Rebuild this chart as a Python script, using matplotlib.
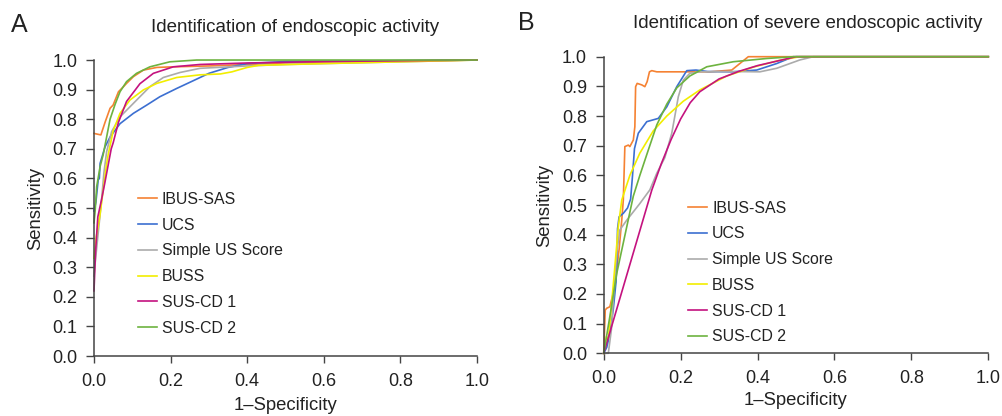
# ROC curves for ultrasound scores vs endoscopic activity
import matplotlib
matplotlib.use("Agg")
import matplotlib.pyplot as plt

plt.rcParams['font.family'] = ['Liberation Sans', 'DejaVu Sans']

labels = ["IBUS-SAS", "UCS", "Simple US Score", "BUSS", "SUS-CD 1", "SUS-CD 2"]
colors = ["#F58233", "#3C6FD1", "#ABABAB", "#F2EE00", "#C4127F", "#6DB33F"]
ticks = [0.0, 0.2, 0.4, 0.6, 0.8, 1.0]
yticks = [0.0, 0.1, 0.2, 0.3, 0.4, 0.5, 0.6, 0.7, 0.8, 0.9, 1.0]

# Panel A - endoscopic activity
a_ibus_x = [0, 0.018, 0.029, 0.042, 0.05, 0.064, 0.077, 0.085, 0.103, 0.129, 0.164, 0.206, 0.3, 0.5, 0.7, 1.0]
a_ibus_y = [0.752, 0.747, 0.79, 0.837, 0.848, 0.893, 0.91, 0.921, 0.944, 0.966, 0.975, 0.977, 0.98, 0.99, 0.995, 1.0]
a_ucs_x = [0, 0.005, 0.011, 0.014, 0.016, 0.029, 0.042, 0.068, 0.103, 0.138, 0.172, 0.216, 0.259, 0.3, 0.35, 0.4, 0.5, 1.0]
a_ucs_y = [0.49, 0.52, 0.595, 0.6, 0.651, 0.707, 0.74, 0.785, 0.82, 0.848, 0.876, 0.904, 0.93, 0.955, 0.975, 0.988, 0.995, 1.0]
a_simple_x = [0, 0.003, 0.01, 0.019, 0.026, 0.033, 0.046, 0.068, 0.094, 0.12, 0.146, 0.181, 0.225, 0.277, 0.4, 0.5, 1.0]
a_simple_y = [0.27, 0.313, 0.403, 0.516, 0.62, 0.69, 0.758, 0.808, 0.842, 0.876, 0.91, 0.941, 0.958, 0.972, 0.98, 0.985, 1.0]
a_buss_x = [0, 0.006, 0.015, 0.023, 0.032, 0.037, 0.05, 0.068, 0.094, 0.129, 0.164, 0.216, 0.277, 0.33, 0.36, 0.4, 0.43, 0.6, 1.0]
a_buss_y = [0.33, 0.403, 0.47, 0.55, 0.64, 0.68, 0.76, 0.82, 0.865, 0.899, 0.921, 0.941, 0.95, 0.953, 0.96, 0.975, 0.982, 0.988, 1.0]
a_sus1_x = [0, 0.004, 0.01, 0.02, 0.028, 0.037, 0.045, 0.05, 0.064, 0.085, 0.12, 0.155, 0.207, 0.277, 0.4, 0.6, 1.0]
a_sus1_y = [0.22, 0.35, 0.47, 0.53, 0.583, 0.645, 0.7, 0.72, 0.79, 0.86, 0.92, 0.955, 0.977, 0.985, 0.99, 0.995, 1.0]
a_sus2_x = [0, 0.003, 0.007, 0.016, 0.024, 0.033, 0.042, 0.055, 0.068, 0.085, 0.111, 0.146, 0.198, 0.268, 0.4, 1.0]
a_sus2_y = [0.45, 0.49, 0.572, 0.64, 0.68, 0.74, 0.8, 0.85, 0.893, 0.927, 0.955, 0.977, 0.994, 1.0, 1.0, 1.0]

# Panel B - severe endoscopic activity
b_ibus_x = [0, 0.004, 0.008, 0.016, 0.029, 0.04, 0.047, 0.051, 0.055, 0.064, 0.068, 0.077, 0.081, 0.083, 0.087, 0.099, 0.107, 0.113, 0.119, 0.125, 0.138, 0.276, 0.333, 0.376, 1.0]
b_ibus_y = [0, 0.146, 0.152, 0.157, 0.225, 0.35, 0.45, 0.517, 0.697, 0.702, 0.697, 0.719, 0.764, 0.899, 0.91, 0.905, 0.899, 0.916, 0.949, 0.953, 0.949, 0.949, 0.955, 1.0, 1.0]
b_ucs_x = [0, 0.008, 0.016, 0.025, 0.032, 0.034, 0.036, 0.04, 0.051, 0.062, 0.07, 0.075, 0.08, 0.09, 0.112, 0.142, 0.164, 0.19, 0.216, 0.24, 0.27, 0.337, 0.398, 0.45, 0.493, 1.0]
b_ucs_y = [0, 0.02, 0.067, 0.15, 0.24, 0.3, 0.42, 0.46, 0.472, 0.49, 0.52, 0.6, 0.69, 0.742, 0.781, 0.792, 0.831, 0.899, 0.953, 0.955, 0.95, 0.949, 0.955, 0.977, 1.0, 1.0]
b_simple_x = [0, 0.012, 0.02, 0.025, 0.034, 0.042, 0.06, 0.094, 0.12, 0.138, 0.159, 0.177, 0.194, 0.207, 0.224, 0.25, 0.337, 0.406, 0.45, 0.51, 0.545, 1.0]
b_simple_y = [0, 0.0, 0.08, 0.18, 0.34, 0.416, 0.449, 0.505, 0.551, 0.607, 0.66, 0.742, 0.865, 0.921, 0.944, 0.949, 0.95, 0.949, 0.961, 0.989, 1.0, 1.0]
b_buss_x = [0, 0.007, 0.012, 0.016, 0.029, 0.038, 0.047, 0.068, 0.094, 0.129, 0.164, 0.207, 0.25, 0.32, 0.389, 0.458, 0.51, 1.0]
b_buss_y = [0, 0.056, 0.05, 0.1, 0.292, 0.427, 0.517, 0.6, 0.675, 0.75, 0.8, 0.85, 0.888, 0.935, 0.965, 0.988, 1.0, 1.0]
b_sus1_x = [0, 0.025, 0.05, 0.075, 0.1, 0.125, 0.15, 0.175, 0.2, 0.225, 0.25, 0.3, 0.35, 0.4, 0.45, 0.5, 1.0]
b_sus1_y = [0, 0.11, 0.22, 0.33, 0.44, 0.55, 0.64, 0.72, 0.79, 0.845, 0.882, 0.925, 0.95, 0.97, 0.985, 1.0, 1.0]
b_sus2_x = [0, 0.016, 0.034, 0.06, 0.077, 0.094, 0.112, 0.138, 0.164, 0.19, 0.224, 0.268, 0.337, 0.424, 0.493, 1.0]
b_sus2_y = [0, 0.124, 0.27, 0.427, 0.53, 0.6, 0.67, 0.77, 0.84, 0.895, 0.935, 0.966, 0.983, 0.994, 1.0, 1.0]

panel_a = [(a_ibus_x, a_ibus_y), (a_ucs_x, a_ucs_y), (a_simple_x, a_simple_y),
           (a_buss_x, a_buss_y), (a_sus1_x, a_sus1_y), (a_sus2_x, a_sus2_y)]
panel_b = [(b_ibus_x, b_ibus_y), (b_ucs_x, b_ucs_y), (b_simple_x, b_simple_y),
           (b_buss_x, b_buss_y), (b_sus1_x, b_sus1_y), (b_sus2_x, b_sus2_y)]

fig = plt.figure(figsize=(10.02, 4.16), dpi=100)
ax_a = fig.add_axes([0.0938, 0.1442, 0.3822, 0.7115])
ax_b = fig.add_axes([0.6025, 0.1507, 0.3838, 0.713])


def draw(ax, curves, title, title_x, xlab_y, ylab_x, leg_anchor):
    for (x, y), lab, col in zip(curves, labels, colors):
        ax.plot(x, y, color=col, linewidth=1.2, label=lab, clip_on=False)
    ax.set_xlim(0, 1)
    ax.set_ylim(0, 1)
    ax.set_xticks(ticks)
    ax.set_yticks(yticks)
    ax.set_xticklabels(["%.1f" % t for t in ticks])
    ax.set_yticklabels(["%.1f" % t for t in yticks])
    for s in ["top", "right"]:
        ax.spines[s].set_visible(False)
    for s in ["left", "bottom"]:
        ax.spines[s].set_color("#444444")
        ax.spines[s].set_linewidth(1.1)
    ax.tick_params(axis="y", length=6, width=1, color="#444444", labelsize=13, pad=6, labelcolor="#222222")
    ax.tick_params(axis="x", length=5, width=1, color="#444444", labelsize=13, pad=7, labelcolor="#222222")
    ax.set_xlabel("1\u2013Specificity", fontsize=13.3, color="#222222", va="center")
    ax.set_ylabel("Sensitivity", fontsize=13.3, color="#222222", va="center")
    ax.xaxis.set_label_coords(0.5, xlab_y)
    ax.yaxis.set_label_coords(ylab_x, 0.5)
    ax.text(title_x, 1.111, title, transform=ax.transAxes, ha="center", va="center",
            fontsize=13.5, color="#222222")
    ax.legend(loc="upper left", bbox_to_anchor=leg_anchor, frameon=False, fontsize=11.4,
              handlelength=1.2, handletextpad=0.3, labelspacing=0.68, borderpad=0,
              borderaxespad=0, labelcolor="#222222")


draw(ax_a, panel_a, "Identification of endoscopic activity", 0.526, -0.166, -0.151, (0.115, 0.555))
draw(ax_b, panel_b, "Identification of severe endoscopic activity", 0.531, -0.16, -0.153, (0.22, 0.515))

fig.text(0.019, 0.94, "A", fontsize=18, ha="center", va="center", color="#222222")
fig.text(0.525, 0.945, "B", fontsize=18, ha="center", va="center", color="#222222")

fig.savefig("out.png", dpi=100)
